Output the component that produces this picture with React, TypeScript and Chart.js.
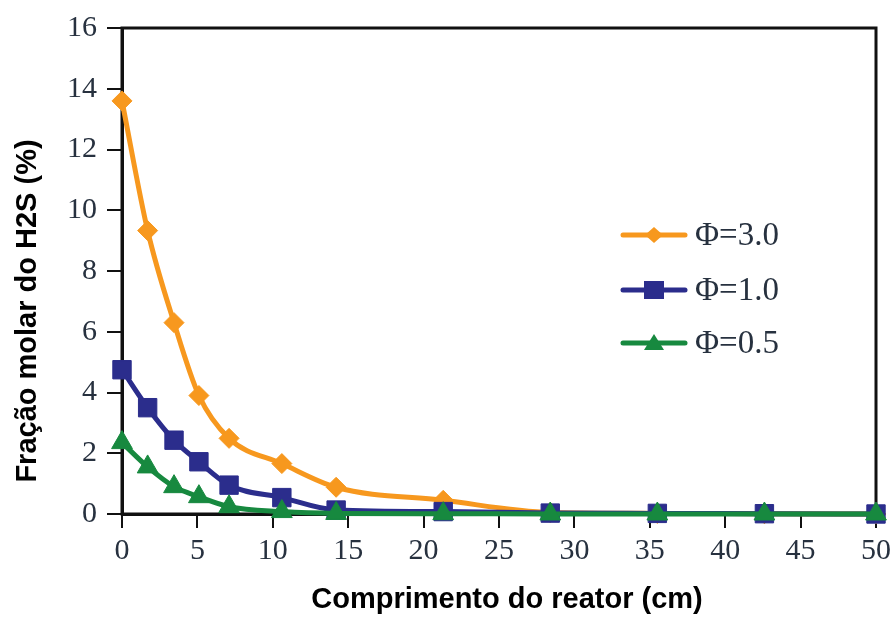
import React, { useEffect, useRef } from 'react';
import { Chart, registerables } from 'chart.js';

Chart.register(...registerables);

// ---- data ----
const xValues = [0, 1.7, 3.45, 5.1, 7.1, 10.6, 14.2, 21.3, 28.4, 35.5, 42.6, 50];
const phi30 = [13.6, 9.33, 6.3, 3.9, 2.49, 1.66, 0.88, 0.45, 0.05, 0.02, 0.01, 0.0];
const phi10 = [4.75, 3.5, 2.43, 1.72, 0.95, 0.54, 0.13, 0.08, 0.03, 0.02, 0.01, 0.0];
const phi05 = [2.35, 1.55, 0.9, 0.57, 0.24, 0.08, 0.02, 0.01, 0.0, 0.0, 0.0, 0.0];
const seriesLabels = ['Φ=3.0', 'Φ=1.0', 'Φ=0.5'];
const xTitle = 'Comprimento do reator (cm)';
const yTitle = 'Fração molar do H2S (%)';
const xRange = [0, 50, 5];
const yRange = [0, 16, 2];

const ORANGE = '#F7981E';
const BLUE = '#2B2D8C';
const GREEN = '#17893F';
const TICK_COLOR = '#27313f';
const SERIF = "'Liberation Serif', 'DejaVu Serif', serif";
const SANS = "'Liberation Sans', Arial, sans-serif";

const toPoints = (ys: number[]) => xValues.map((x, i) => ({ x, y: ys[i] }));

const framePlugin = {
  id: 'frame',
  beforeDatasetsDraw(chart: any) {
    const { ctx, chartArea } = chart;
    ctx.save();
    ctx.strokeStyle = '#111';
    ctx.lineWidth = 3;
    ctx.strokeRect(chartArea.left, chartArea.top, chartArea.right - chartArea.left, chartArea.bottom - chartArea.top);
    ctx.restore();
  },
};

const titlesPlugin = {
  id: 'titles',
  afterDraw(chart: any) {
    const { ctx, chartArea } = chart;
    ctx.save();
    ctx.fillStyle = '#000';
    ctx.font = `bold 29px ${SANS}`;
    ctx.textAlign = 'center';
    ctx.textBaseline = 'middle';
    ctx.fillText(xTitle, (chartArea.left + chartArea.right) / 2 + 8, 600);
    ctx.translate(28, 311);
    ctx.rotate(-Math.PI / 2);
    ctx.fillText(yTitle, 0, 0);
    ctx.restore();
  },
};

const legendPlugin = {
  id: 'customLegend',
  afterDraw(chart: any) {
    const { ctx } = chart;
    const rows = [235, 290, 343];
    const x0 = 623;
    const x1 = 685;
    const cx = (x0 + x1) / 2;
    ctx.save();
    chart.data.datasets.forEach((ds: any, i: number) => {
      const y = rows[i];
      ctx.strokeStyle = ds.borderColor;
      ctx.fillStyle = ds.borderColor;
      ctx.lineWidth = 5;
      ctx.lineCap = 'round';
      ctx.beginPath();
      ctx.moveTo(x0, y);
      ctx.lineTo(x1, y);
      ctx.stroke();
      ctx.beginPath();
      if (ds.pointStyle === 'rectRot') {
        ctx.moveTo(cx - 9, y);
        ctx.lineTo(cx, y - 8);
        ctx.lineTo(cx + 9, y);
        ctx.lineTo(cx, y + 8);
        ctx.closePath();
      } else if (ds.pointStyle === 'rect') {
        ctx.rect(cx - 10, y - 9, 20, 18);
      } else {
        ctx.moveTo(cx, y - 9);
        ctx.lineTo(cx + 10, y + 7);
        ctx.lineTo(cx - 10, y + 7);
        ctx.closePath();
      }
      ctx.fill();
      ctx.fillStyle = TICK_COLOR;
      ctx.font = `33px ${SERIF}`;
      ctx.textAlign = 'left';
      ctx.textBaseline = 'middle';
      ctx.fillText(ds.label, 695, y + 1);
    });
    ctx.restore();
  },
};

export default function App() {
  const canvasRef = useRef<HTMLCanvasElement | null>(null);

  useEffect(() => {
    if (!canvasRef.current) return;
    const common = {
      borderWidth: 5,
      pointBorderWidth: 1,
      fill: false,
      clip: false as any,
      cubicInterpolationMode: 'monotone' as const,
    };
    const chart = new Chart(canvasRef.current, {
      type: 'line',
      data: {
        datasets: [
          {
            ...common,
            label: seriesLabels[0],
            data: toPoints(phi30),
            borderColor: ORANGE,
            backgroundColor: ORANGE,
            pointStyle: 'rectRot',
            pointRadius: 10,
            order: 2,
          },
          {
            ...common,
            label: seriesLabels[1],
            data: toPoints(phi10),
            borderColor: BLUE,
            backgroundColor: BLUE,
            pointStyle: 'rect',
            pointRadius: 13,
            order: 1,
          },
          {
            ...common,
            label: seriesLabels[2],
            data: toPoints(phi05),
            borderColor: GREEN,
            backgroundColor: GREEN,
            pointStyle: 'triangle',
            pointRadius: 12,
            order: 0,
          },
        ],
      },
      options: {
        animation: false,
        responsive: false,
        events: [],
        layout: { padding: { left: 0, right: 17, top: 28, bottom: 0 } },
        plugins: {
          legend: { display: false },
          tooltip: { enabled: false },
        },
        scales: {
          x: {
            type: 'linear',
            min: xRange[0],
            max: xRange[1],
            afterFit(scale: any) {
              scale.height = 105;
            },
            ticks: {
              stepSize: xRange[2],
              color: TICK_COLOR,
              font: { family: SERIF, size: 30 },
              padding: 5,
              maxRotation: 0,
            },
            grid: {
              drawOnChartArea: false,
              drawTicks: true,
              tickLength: 14,
              color: '#111',
              lineWidth: 2,
            },
            border: { display: true, color: '#111', width: 3 },
          },
          y: {
            type: 'linear',
            min: yRange[0],
            max: yRange[1],
            afterFit(scale: any) {
              scale.width = 122;
            },
            ticks: {
              stepSize: yRange[2],
              color: TICK_COLOR,
              font: { family: SERIF, size: 30 },
              padding: 10,
            },
            grid: {
              drawOnChartArea: false,
              drawTicks: true,
              tickLength: 15,
              color: '#111',
              lineWidth: 2,
            },
            border: { display: true, color: '#111', width: 3 },
          },
        },
      },
      plugins: [framePlugin, titlesPlugin, legendPlugin],
    });
    return () => chart.destroy();
  }, []);

  return (
    <div style={{ position: 'absolute', left: 0, top: 0, width: 896, height: 619, background: '#fff' }}>
      <canvas ref={canvasRef} width={896} height={619} style={{ display: 'block' }} />
    </div>
  );
}
